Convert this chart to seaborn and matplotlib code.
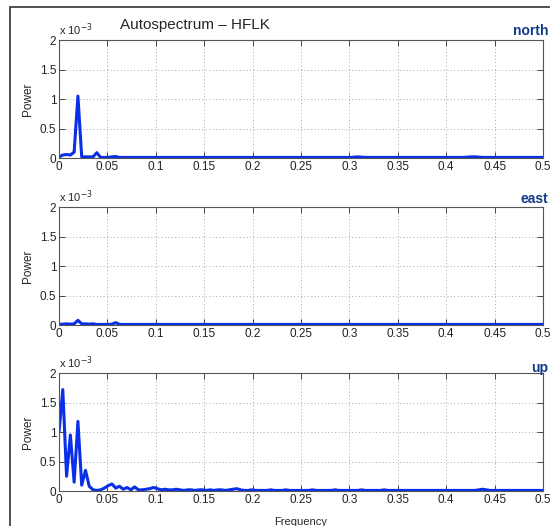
import numpy as np
import pandas as pd
import seaborn as sns
import matplotlib.pyplot as plt
from matplotlib.patches import Rectangle

# frequency grid (1/256 steps, 0 .. 0.5)
freq = np.arange(129) / 256

# power values in units of 1e-3
north = [0.02, 0.05, 0.06, 0.05, 0.10, 1.05, 0.02, 0.02, 0.02, 0.02, 0.09, 0.01, 0.01, 0.01, 0.02, 0.025,
         0.01, 0.01, 0.01, 0.01, 0.01, 0.01, 0.01, 0.01, 0.01, 0.01, 0.01, 0.01, 0.01, 0.01, 0.01, 0.01,
         0.01, 0.01, 0.01, 0.01, 0.01, 0.01, 0.01, 0.01, 0.01, 0.01, 0.01, 0.01, 0.01, 0.01, 0.01, 0.01,
         0.01, 0.01, 0.01, 0.01, 0.01, 0.01, 0.01, 0.01, 0.01, 0.01, 0.01, 0.01, 0.01, 0.01, 0.01, 0.01,
         0.01, 0.01, 0.01, 0.01, 0.01, 0.01, 0.01, 0.01, 0.01, 0.01, 0.01, 0.01, 0.01, 0.01, 0.015, 0.02,
         0.015, 0.01, 0.01, 0.01, 0.01, 0.01, 0.01, 0.01, 0.01, 0.01, 0.01, 0.01, 0.01, 0.01, 0.01, 0.01,
         0.01, 0.01, 0.01, 0.01, 0.01, 0.01, 0.01, 0.01, 0.01, 0.01, 0.01, 0.01, 0.015, 0.02, 0.02, 0.015,
         0.01, 0.01, 0.01, 0.01, 0.01, 0.01, 0.01, 0.01, 0.01, 0.01, 0.01, 0.01, 0.01, 0.01, 0.01, 0.01,
         0.01]
east = [0.01, 0.015, 0.02, 0.015, 0.02, 0.08, 0.02, 0.02, 0.015, 0.02, 0.01, 0.01, 0.01, 0.01, 0.015, 0.04,
        0.01, 0.01, 0.01, 0.01, 0.01, 0.01, 0.01, 0.01, 0.01, 0.01, 0.01, 0.01, 0.01, 0.01, 0.01, 0.01,
        0.01, 0.01, 0.01, 0.01, 0.01, 0.01, 0.01, 0.01, 0.01, 0.01, 0.01, 0.01, 0.01, 0.01, 0.01, 0.01,
        0.01, 0.01, 0.01, 0.01, 0.01, 0.01, 0.01, 0.01, 0.01, 0.01, 0.01, 0.01, 0.01, 0.01, 0.01, 0.01,
        0.01, 0.01, 0.01, 0.01, 0.01, 0.01, 0.01, 0.01, 0.01, 0.01, 0.01, 0.01, 0.01, 0.01, 0.01, 0.01,
        0.01, 0.01, 0.01, 0.01, 0.01, 0.01, 0.01, 0.01, 0.01, 0.01, 0.01, 0.01, 0.01, 0.01, 0.01, 0.01,
        0.01, 0.01, 0.01, 0.01, 0.01, 0.01, 0.01, 0.01, 0.01, 0.01, 0.01, 0.01, 0.01, 0.01, 0.01, 0.01,
        0.01, 0.01, 0.01, 0.01, 0.01, 0.01, 0.01, 0.01, 0.01, 0.01, 0.01, 0.01, 0.01, 0.01, 0.01, 0.01,
        0.01]
up = [1.00, 1.72, 0.25, 0.95, 0.15, 1.18, 0.10, 0.35, 0.08, 0.02, 0.01, 0.02, 0.05, 0.09, 0.12, 0.05,
      0.08, 0.03, 0.06, 0.02, 0.07, 0.02, 0.02, 0.03, 0.04, 0.06, 0.04, 0.02, 0.03, 0.02, 0.02, 0.03,
      0.02, 0.01, 0.02, 0.02, 0.01, 0.02, 0.02, 0.01, 0.02, 0.01, 0.02, 0.02, 0.01, 0.02, 0.03, 0.04,
      0.02, 0.01, 0.01, 0.02, 0.01, 0.01, 0.01, 0.01, 0.02, 0.01, 0.01, 0.01, 0.02, 0.01, 0.01, 0.01,
      0.01, 0.01, 0.01, 0.02, 0.01, 0.01, 0.01, 0.01, 0.01, 0.02, 0.01, 0.01, 0.01, 0.01, 0.01, 0.01,
      0.02, 0.01, 0.01, 0.01, 0.01, 0.01, 0.02, 0.01, 0.01, 0.01, 0.01, 0.01, 0.01, 0.01, 0.01, 0.01,
      0.01, 0.01, 0.01, 0.01, 0.01, 0.01, 0.01, 0.01, 0.01, 0.01, 0.01, 0.01, 0.01, 0.01, 0.01, 0.02,
      0.03, 0.02, 0.01, 0.01, 0.01, 0.01, 0.01, 0.01, 0.01, 0.01, 0.01, 0.01, 0.01, 0.01, 0.01, 0.01,
      0.01]

components = ["north", "east", "up"]
x_ticks = [0, 0.05, 0.1, 0.15, 0.2, 0.25, 0.3, 0.35, 0.4, 0.45, 0.5]
x_labels = ["0", "0.05", "0.1", "0.15", "0.2", "0.25", "0.3", "0.35", "0.4", "0.45", "0.5"]
y_ticks = [0, 0.5, 1, 1.5, 2]
y_labels = ["0", "0.5", "1", "1.5", "2"]

sns.set_style("ticks")
plt.rcParams["font.family"] = ["Liberation Sans", "DejaVu Sans"]

fig = plt.figure(figsize=(5.5, 5.26), dpi=100)
fig.patch.set_facecolor("white")

# frame around the figure (partly cut off on the right and bottom)
fig.patches.append(Rectangle((10 / 550, -0.1), 1.2, 1 - 7 / 526 + 0.1, transform=fig.transFigure,
                             fill=False, edgecolor="#333333", linewidth=1.2))

axes_pos = [(0.1073, 0.6996, 0.88, 0.2243),
            (0.1073, 0.3821, 0.88, 0.2243),
            (0.1073, 0.0665, 0.88, 0.2243)]
label_y = [1 - 31 / 526, 1 - 199 / 526, 1 - 368 / 526]

for i, (name, vals) in enumerate(zip(components, [north, east, up])):
    ax = fig.add_axes(axes_pos[i])
    df = pd.DataFrame({"Frequency": freq, "Power": vals})
    sns.lineplot(data=df, x="Frequency", y="Power", ax=ax, color="#0a2fe8", linewidth=2.2)
    ax.set_xlim(0, 0.5)
    ax.set_ylim(0, 2)
    ax.set_xticks(x_ticks)
    ax.set_xticklabels(x_labels)
    ax.set_yticks(y_ticks)
    ax.set_yticklabels(y_labels)
    ax.grid(True, linestyle=(0, (1, 2.5)), color="#a8a8a8", linewidth=0.7)
    ax.tick_params(direction="in", top=True, right=True, length=4, width=0.7,
                   labelsize=8.5, pad=2, color="#444444", labelcolor="#222222")
    for s in ax.spines.values():
        s.set_color("#555555")
        s.set_linewidth(0.8)
    ax.set_ylabel("Power", fontsize=8.5, labelpad=4)
    if i == 2:
        ax.set_xlabel("Frequency", fontsize=8, labelpad=8)
    else:
        ax.set_xlabel("")
    ax.text(0.0, 1.02, r"x 10$^{-3}$", transform=ax.transAxes, fontsize=8, ha="left", va="bottom")
    fig.text(548 / 550, label_y[i], name, ha="right", va="center", fontsize=10,
             fontweight="bold", color="#123a8c")

fig.text(195 / 550, 1 - 25 / 526, "Autospectrum \u2013 HFLK", ha="center", va="center", fontsize=11)

plt.savefig("out.png", dpi=100)
